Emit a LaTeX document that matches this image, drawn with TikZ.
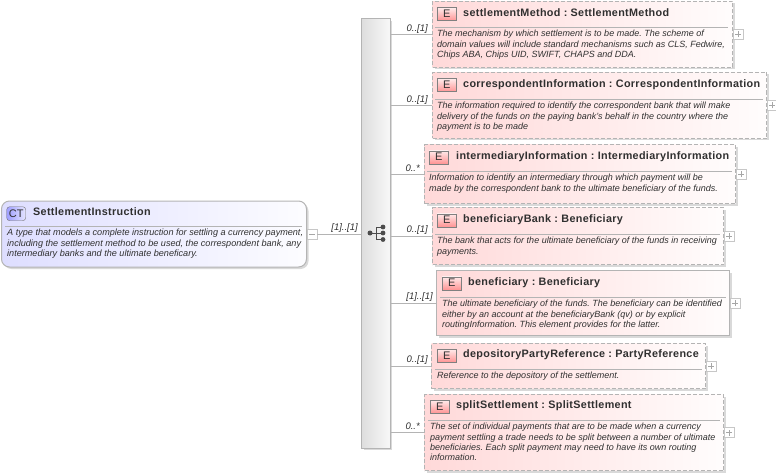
\documentclass[tikz,border=0pt]{standalone}
\usepackage{fontspec}
\setmainfont{Liberation Sans}
\newfontfamily\titlefont[LetterSpace=3]{Liberation Sans}
\usetikzlibrary{shadows}
\definecolor{edgegray}{HTML}{B4B4B4}
\definecolor{inkgray}{HTML}{303030}
\frenchspacing
\tikzset{
  softshadow/.style={drop shadow={shadow xshift=2pt,shadow yshift=-2pt,opacity=.15,fill=black}},
  rootbox/.style={draw=edgegray,line width=1pt,rounded corners=8pt,left color=blue!13,right color=blue!1,softshadow,inner sep=0pt,anchor=north west},
  elembox/.style={draw=edgegray,line width=1pt,dash pattern=on 4pt off 2pt,left color=red!15,right color=red!1,softshadow,inner sep=0pt,anchor=north west},
  solidbox/.style={elembox,solid},
  barbox/.style={draw=edgegray,line width=1pt,left color=black!13,right color=black!3,softshadow,inner sep=0pt,anchor=north west},
  ebadge/.style={draw=black!50,top color=red!8,bottom color=red!42,minimum width=19pt,minimum height=13pt,inner sep=0pt,anchor=north west,font=\fontsize{11}{11}\selectfont,text=inkgray},
  ctbadge/.style={draw=black!55,rounded corners=3pt,left color=blue!38,right color=blue!10,minimum width=19pt,minimum height=14pt,inner sep=0pt,anchor=north west,font=\fontsize{11}{11}\selectfont,text=inkgray},
  titletext/.style={anchor=west,inner sep=0pt,text=inkgray,font=\titlefont\bfseries\fontsize{10.8}{12}\selectfont},
  desctext/.style={anchor=north west,inner sep=0pt,align=left,text=inkgray,font=\itshape\fontsize{9}{10.3}\selectfont},
  cardtext/.style={anchor=east,inner sep=0pt,text=inkgray,font=\itshape\fontsize{9.5}{10}\selectfont},
  sepline/.style={draw=edgegray,line width=0.9pt},
  linkline/.style={draw=edgegray,line width=0.9pt},
  plusbox/.style={draw=black!22,fill=white,minimum size=10pt,inner sep=0pt,anchor=west,
    path picture={\draw[black!35] ([xshift=2pt]path picture bounding box.west) -- ([xshift=-2pt]path picture bounding box.east);
      \draw[black!35] ([yshift=2pt]path picture bounding box.south) -- ([yshift=-2pt]path picture bounding box.north);}},
  minusbox/.style={draw=black!22,fill=white,minimum size=10pt,inner sep=0pt,anchor=west,
    path picture={\draw[black!35] ([xshift=2pt]path picture bounding box.west) -- ([xshift=-2pt]path picture bounding box.east);}},
}
\begin{document}
\begin{tikzpicture}[x=1pt,y=-1pt]
  \useasboundingbox (0,0) rectangle (776,476);

  % sequence bar
  \node[barbox,minimum width=28.5pt,minimum height=429pt] (bar) at (361,18.5) {};
  \fill[black!70] (370,233) circle (2.5);
  \fill[black!70] (383,227) circle (2.4);
  \fill[black!70] (383,233) circle (2.4);
  \fill[black!70] (383,239.5) circle (2.4);
  \draw[black!70,line width=0.9pt] (370,233) -- (376,233);
  \draw[black!70,line width=0.9pt] (383,227) -- (376,227) -- (376,239.5) -- (383,239.5);
  \draw[black!70,line width=0.9pt] (376,233) -- (383,233);

  % root type
  \node[rootbox,minimum width=305pt,minimum height=66pt] (root) at (1,200.5) {};
  \node[ctbadge] (rootbadge) at (6.5,206.5) {CT};
  \node[titletext] (roottitle) at (33,212) {SettlementInstruction};
  \draw[sepline] (5,226) -- (302,226);
  \node[desctext,font=\itshape\fontsize{9.1}{10.3}\selectfont] (rootdesc) at (7,229) {A type that models a complete instruction for settling a currency payment,\\including the settlement method to be used, the correspondent bank, any\\intermediary banks and the ultimate beneficary.};
  \node[minusbox] (rootminus) at (root.east) {};
  \draw[linkline] (rootminus) -- (bar.west |- rootminus);
  \node[cardtext] (rootcard) at (358,228) {[1]..[1]};

  % settlementMethod
  \node[elembox,minimum width=300pt,minimum height=66pt] (method) at (432,1) {};
  \node[ebadge] (methodbadge) at (437,7.5) {E};
  \node[titletext] (methodtitle) at (463,12.5) {settlementMethod : SettlementMethod};
  \draw[sepline] (435,27) -- (728,27);
  \node[desctext] (methoddesc) at (437,30) {The mechanism by which settlement is to be made. The scheme of\\domain values will include standard mechanisms such as CLS, Fedwire,\\Chips ABA, Chips UID, SWIFT, CHAPS and DDA.};
  \node[plusbox] (methodplus) at (method.east) {};
  \draw[linkline] (bar.east |- method.west) -- (method.west);
  \node[cardtext] (methodcard) at (428,29) {0..[1]};

  % correspondentInformation
  \node[elembox,minimum width=334pt,minimum height=66pt] (corresp) at (432,72) {};
  \node[ebadge] (correspbadge) at (437,78.5) {E};
  \node[titletext] (corresptitle) at (463,84.5) {correspondentInformation : CorrespondentInformation};
  \draw[sepline] (435,99) -- (763,99);
  \node[desctext] (correspdesc) at (437,102) {The information required to identify the correspondent bank that will make\\delivery of the funds on the paying bank's behalf in the country where the\\payment is to be made};
  \node[plusbox] (correspplus) at (corresp.east) {};
  \draw[linkline] (bar.east |- corresp.west) -- (corresp.west);
  \node[cardtext] (correspcard) at (428,100) {0..[1]};

  % intermediaryInformation
  \node[elembox,minimum width=311pt,minimum height=59pt] (intermed) at (424,144) {};
  \node[ebadge] (intermedbadge) at (429,150.5) {E};
  \node[titletext] (intermedtitle) at (456,156.5) {intermediaryInformation : IntermediaryInformation};
  \draw[sepline] (427,171) -- (732,171);
  \node[desctext] (intermeddesc) at (429,174) {Information to identify an intermediary through which payment will be\\made by the correspondent bank to the ultimate beneficiary of the funds.};
  \node[plusbox] (intermedplus) at (intermed.east) {};
  \draw[linkline] (bar.east |- intermed.west) -- (intermed.west);
  \node[cardtext] (intermedcard) at (420,168) {0..*};

  % beneficiaryBank
  \node[elembox,minimum width=291pt,minimum height=57pt] (benbank) at (432,207) {};
  \node[ebadge] (benbankbadge) at (437,213.5) {E};
  \node[titletext] (benbanktitle) at (463,219.5) {beneficiaryBank : Beneficiary};
  \draw[sepline] (435,234) -- (720,234);
  \node[desctext] (benbankdesc) at (437,237) {The bank that acts for the ultimate beneficiary of the funds in receiving\\payments.};
  \node[plusbox] (benbankplus) at (benbank.east) {};
  \draw[linkline] (bar.east |- benbank.west) -- (benbank.west);
  \node[cardtext] (benbankcard) at (428,230) {0..[1]};

  % beneficiary
  \node[solidbox,minimum width=293pt,minimum height=65pt] (benef) at (436,270) {};
  \node[ebadge] (benefbadge) at (442,276.5) {E};
  \node[titletext] (beneftitle) at (468,282.5) {beneficiary : Beneficiary};
  \draw[sepline] (440,297) -- (726,297);
  \node[desctext] (benefdesc) at (442,300) {The ultimate beneficiary of the funds. The beneficiary can be identified\\either by an account at the beneficiaryBank (qv) or by explicit\\routingInformation. This element provides for the latter.};
  \node[plusbox] (benefplus) at (benef.east) {};
  \draw[linkline] (bar.east |- benef.west) -- (benef.west);
  \node[cardtext] (benefcard) at (433,297) {[1]..[1]};

  % depositoryPartyReference
  \node[elembox,minimum width=274pt,minimum height=45pt] (deposit) at (431,343) {};
  \node[ebadge] (depositbadge) at (437,349) {E};
  \node[titletext] (deposittitle) at (463,354.5) {depositoryPartyReference : PartyReference};
  \draw[sepline] (435,369) -- (702,369);
  \node[desctext] (depositdesc) at (437,372) {Reference to the depository of the settlement.};
  \node[plusbox] (depositplus) at (deposit.east) {};
  \draw[linkline] (bar.east |- deposit.west) -- (deposit.west);
  \node[cardtext] (depositcard) at (428,360) {0..[1]};

  % splitSettlement
  \node[elembox,minimum width=299pt,minimum height=76pt] (split) at (424,394) {};
  \node[ebadge] (splitbadge) at (430,400) {E};
  \node[titletext] (splittitle) at (456,405.5) {splitSettlement : SplitSettlement};
  \draw[sepline] (428,420) -- (720,420);
  \node[desctext] (splitdesc) at (430,423) {The set of individual payments that are to be made when a currency\\payment settling a trade needs to be split between a number of ultimate\\beneficiaries. Each split payment may need to have its own routing\\information.};
  \node[plusbox] (splitplus) at (split.east) {};
  \draw[linkline] (bar.east |- split.west) -- (split.west);
  \node[cardtext] (splitcard) at (420,426) {0..*};
\end{tikzpicture}
\end{document}
